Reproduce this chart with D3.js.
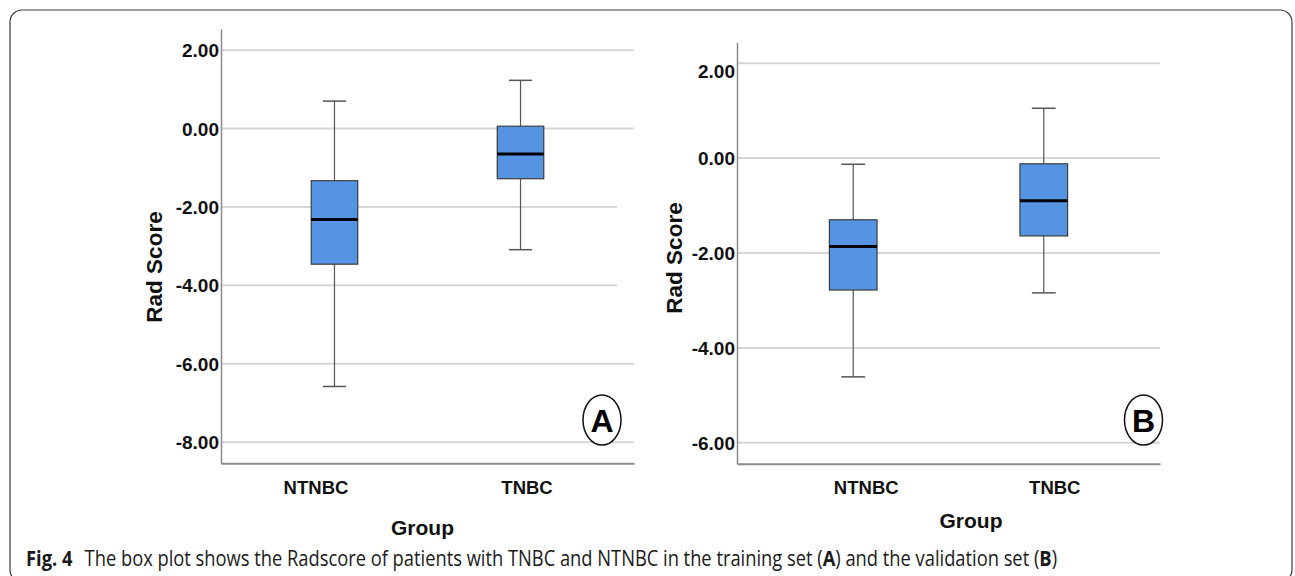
<!DOCTYPE html>
<html>
<head>
<meta charset="utf-8">
<script src="https://cdn.jsdelivr.net/npm/d3@7"></script>
<style>
  html, body { margin: 0; padding: 0; background: #fff; }
  svg { display: block; }
</style>
</head>
<body>
<svg id="chart" width="1295" height="576"></svg>
<script>
// ---------------- DATA ----------------
const groups = ["NTNBC", "TNBC"];

// Panel A: training set
const trainWhiskerHigh = [0.70, 1.23];
const trainQ3          = [-1.33, 0.06];
const trainMedian      = [-2.32, -0.65];
const trainQ1          = [-3.46, -1.28];
const trainWhiskerLow  = [-6.58, -3.09];
const trainTicks       = [2, 0, -2, -4, -6, -8];
const trainDomain      = [-8.54, 2.54];

// Panel B: validation set
const validWhiskerHigh = [-0.13, 1.05];
const validQ3          = [-1.30, -0.12];
const validMedian      = [-1.865, -0.90];
const validQ1          = [-2.78, -1.64];
const validWhiskerLow  = [-4.61, -2.84];
const validTicks       = [2, 0, -2, -4, -6];
const validDomain      = [-6.44, 2.44];

const yTitle = "Rad Score";
const xTitle = "Group";
const panelLetters = ["A", "B"];

// ---------------- DRAW ----------------
const svg = d3.select("#chart");
const fmt = d3.formatLocale({decimal: ".", thousands: ",", grouping: [3], currency: ["", ""], minus: "-"}).format(".2f");
const FONT = "'Liberation Sans', Arial, Helvetica, sans-serif";
const BOX_FILL = "#5494e3";

// outer frame
svg.append("rect")
  .attr("x", 10).attr("y", 10)
  .attr("width", 1282).attr("height", 572)
  .attr("rx", 12).attr("ry", 12)
  .attr("fill", "none").attr("stroke", "#3a3a3a").attr("stroke-width", 1.2);

function drawPanel(cfg) {
  const g = svg.append("g");
  const x = d3.scalePoint().domain(groups).range([cfg.x0, cfg.x1]).padding(0.61);
  const y = d3.scaleLinear().domain(cfg.domain).range([cfg.yBottom, cfg.yTop]);
  const step = x.step();
  const boxW = step * 0.25;
  const capW = boxW * 0.5;

  // gridlines
  g.append("g").selectAll("line").data(cfg.ticks).join("line")
    .attr("x1", cfg.x0)
    .attr("x2", d => (cfg.gridEnd && cfg.gridEnd[d] !== undefined) ? cfg.gridEnd[d] : cfg.x1)
    .attr("y1", d => y(d)).attr("y2", d => y(d))
    .attr("stroke", "#d6d6d6").attr("stroke-width", 2);

  // y axis
  const ya = g.append("g").attr("transform", `translate(${cfg.x0},0)`)
    .call(d3.axisLeft(y).tickValues(cfg.ticks).tickFormat(fmt).tickSize(0).tickPadding(2));
  ya.select(".domain").attr("stroke", "#8a8a8a").attr("stroke-width", 1.5);
  ya.selectAll("text")
    .attr("font-family", FONT).attr("font-weight", "bold").attr("font-size", 19).attr("fill", "#111")
    .attr("dy", d => (cfg.tickDy && cfg.tickDy[d]) ? cfg.tickDy[d] : "0.34em");

  // x axis
  const xa = g.append("g").attr("transform", `translate(0,${cfg.yBottom})`)
    .call(d3.axisBottom(x).tickSize(0).tickSizeOuter(0).tickPadding(17.5));
  xa.select(".domain").attr("stroke", "#8a8a8a").attr("stroke-width", 2);
  xa.selectAll("text")
    .attr("font-family", FONT).attr("font-weight", "bold").attr("font-size", 18.5).attr("fill", "#111")
    .attr("dx", (d, i) => cfg.labelDx[i]);

  // boxes
  const rows = groups.map((k, i) => ({
    k, hi: cfg.hi[i], q3: cfg.q3[i], med: cfg.med[i], q1: cfg.q1[i], lo: cfg.lo[i]
  }));
  const b = g.append("g").selectAll("g").data(rows).join("g");
  // whisker stems
  b.append("line")
    .attr("x1", d => x(d.k)).attr("x2", d => x(d.k))
    .attr("y1", d => y(d.hi)).attr("y2", d => y(d.q3))
    .attr("stroke", "#555").attr("stroke-width", 1.2);
  b.append("line")
    .attr("x1", d => x(d.k)).attr("x2", d => x(d.k))
    .attr("y1", d => y(d.q1)).attr("y2", d => y(d.lo))
    .attr("stroke", "#555").attr("stroke-width", 1.2);
  // caps
  b.append("line")
    .attr("x1", d => x(d.k) - capW / 2).attr("x2", d => x(d.k) + capW / 2)
    .attr("y1", d => y(d.hi)).attr("y2", d => y(d.hi))
    .attr("stroke", "#555").attr("stroke-width", 1.5);
  b.append("line")
    .attr("x1", d => x(d.k) - capW / 2).attr("x2", d => x(d.k) + capW / 2)
    .attr("y1", d => y(d.lo)).attr("y2", d => y(d.lo))
    .attr("stroke", "#555").attr("stroke-width", 1.5);
  // box
  b.append("rect")
    .attr("x", d => x(d.k) - boxW / 2).attr("width", boxW)
    .attr("y", d => y(d.q3)).attr("height", d => y(d.q1) - y(d.q3))
    .attr("fill", BOX_FILL).attr("stroke", "#3d3d3d").attr("stroke-width", 1.2);
  // median
  b.append("line")
    .attr("x1", d => x(d.k) - boxW / 2).attr("x2", d => x(d.k) + boxW / 2)
    .attr("y1", d => y(d.med)).attr("y2", d => y(d.med))
    .attr("stroke", "#000").attr("stroke-width", 3);

  // axis titles
  g.append("text")
    .attr("transform", `translate(${cfg.yTitleX},${cfg.yTitleY}) rotate(-90)`)
    .attr("text-anchor", "middle")
    .attr("font-family", FONT).attr("font-weight", "bold").attr("font-size", 22.5).attr("fill", "#111")
    .text(yTitle);
  g.append("text")
    .attr("x", cfg.xTitleX).attr("y", cfg.xTitleY)
    .attr("text-anchor", "middle")
    .attr("font-family", FONT).attr("font-weight", "bold").attr("font-size", 21).attr("fill", "#111")
    .text(xTitle);

  // panel letter in ellipse
  g.append("ellipse")
    .attr("cx", cfg.letterX).attr("cy", cfg.letterY).attr("rx", 19).attr("ry", 25)
    .attr("fill", "#fff").attr("stroke", "#111").attr("stroke-width", 1.5);
  g.append("text")
    .attr("x", cfg.letterX).attr("y", cfg.letterY + 11.5)
    .attr("text-anchor", "middle")
    .attr("font-family", FONT).attr("font-weight", "bold").attr("font-size", 32).attr("fill", "#000")
    .text(cfg.letter);
}

drawPanel({
  x0: 221, x1: 634, yTop: 29, yBottom: 463.3,
  domain: trainDomain, ticks: trainTicks,
  hi: trainWhiskerHigh, q3: trainQ3, med: trainMedian, q1: trainQ1, lo: trainWhiskerLow,
  gridEnd: {"-2": 617, "-4": 617},
  labelDx: [-19, 6],
  yTitleX: 161.5, yTitleY: 267,
  xTitleX: 422.5, xTitleY: 535,
  letterX: 602, letterY: 420, letter: panelLetters[0]
});

drawPanel({
  x0: 737, x1: 1160, yTop: 42.3, yBottom: 463.7,
  domain: validDomain, ticks: validTicks,
  hi: validWhiskerHigh, q3: validQ3, med: validMedian, q1: validQ1, lo: validWhiskerLow,
  tickDy: {"2": "0.75em"},
  labelDx: [12.5, 10.5],
  yTitleX: 681.5, yTitleY: 258,
  xTitleX: 971, xTitleY: 528,
  letterX: 1143.5, letterY: 420, letter: panelLetters[1]
});

// caption
const cap = svg.append("text")
  .attr("font-family", "'Open Sans', 'Noto Sans', sans-serif")
  .attr("font-size", 21).attr("fill", "#1a1a1a");
cap.append("tspan").attr("font-weight", "bold").text("Fig. 4");
cap.append("tspan").attr("dx", 14).text("The box plot shows the Radscore of patients with TNBC and NTNBC in the training set (");
cap.append("tspan").attr("font-weight", "bold").text("A");
cap.append("tspan").text(") and the validation set (");
cap.append("tspan").attr("font-weight", "bold").text("B");
cap.append("tspan").text(")");
const bw = cap.node().getBBox().width;
cap.attr("transform", `translate(26,566) scale(${1032 / bw},1)`);
</script>
</body>
</html>
